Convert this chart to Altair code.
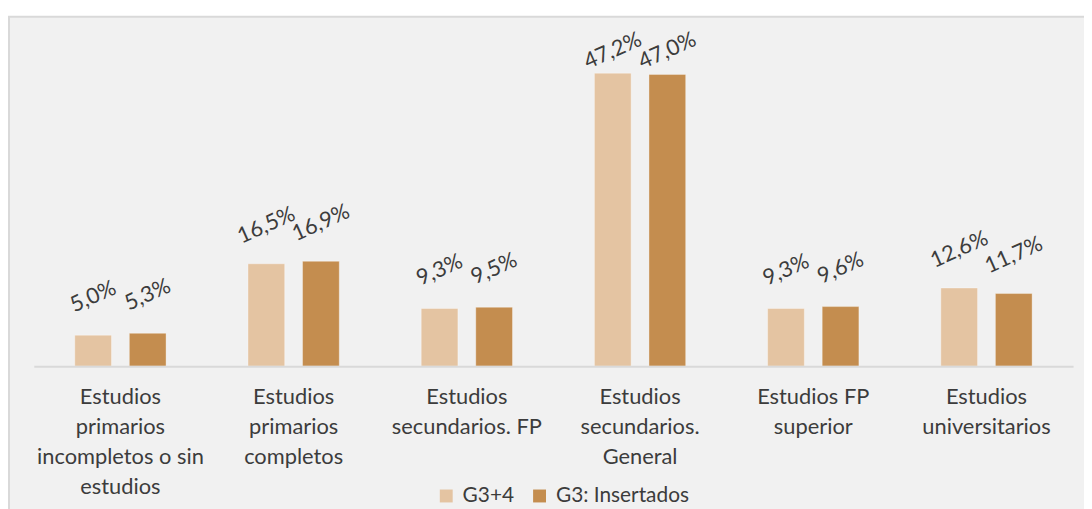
import altair as alt
import pandas as pd

categories = [
    "Estudios|primarios|incompletos o sin|estudios",
    "Estudios|primarios|completos",
    "Estudios|secundarios. FP",
    "Estudios|secundarios.|General",
    "Estudios FP|superior",
    "Estudios|universitarios",
]
series = ["G3+4", "G3: Insertados"]
g34 = [5.0, 16.5, 9.3, 47.2, 9.3, 12.6]
g3 = [5.3, 16.9, 9.5, 47.0, 9.6, 11.7]
colors = ["#E4C4A2", "#C48D4F"]

rows = []
for c, a, b in zip(categories, g34, g3):
    rows.append({"cat": c, "serie": series[0], "value": a})
    rows.append({"cat": c, "serie": series[1], "value": b})
df = pd.DataFrame(rows)

W, H = 1047, 344
FONT = "Lato"
TXT = "#3C3C3C"

bg = alt.Chart(alt.Data(values=[{"a": 1}])).mark_rect(
    fill="#F1F1F1", stroke="#D9D9D9", strokeWidth=2
).encode(
    x=alt.value(-25), x2=alt.value(1120), y=alt.value(-8), y2=alt.value(520)
)

base = alt.Chart(df).encode(
    x=alt.X("cat:N", sort=categories,
            scale=alt.Scale(paddingInner=0.37, paddingOuter=0.185),
            axis=alt.Axis(title=None, labelAngle=0, ticks=False, zindex=1,
                          domainColor="#D9D9D9", domainWidth=2,
                          labelFont=FONT, labelFontSize=22, labelColor=TXT,
                          labelLineHeight=30, labelPadding=21, labelLimit=0,
                          labelExpr="split(datum.label, '|')")),
    xOffset=alt.XOffset("serie:N", sort=series,
                        scale=alt.Scale(paddingInner=0.327, paddingOuter=0.1635)),
)

bars = base.mark_bar(stroke="#FFFFFF", strokeOpacity=0.35, strokeWidth=1).encode(
    y=alt.Y("value:Q", scale=alt.Scale(domain=[0, 55]), axis=None),
    color=alt.Color("serie:N", sort=series,
                    scale=alt.Scale(domain=series, range=colors),
                    legend=alt.Legend(title=None, orient="none", direction="horizontal",
                                      legendX=405, legendY=464, symbolType="square",
                                      symbolSize=169, symbolStrokeWidth=0,
                                      labelFont=FONT, labelFontSize=21, labelColor=TXT,
                                      labelOffset=6, columnPadding=15, padding=0,
                                      zindex=1)),
)

labels = base.transform_calculate(
    lbl="replace(format(datum.value, '.1f'), '.', ',') + '%'",
    ypos="min(datum.value, 44.6)",
).mark_text(
    angle=336, font=FONT, fontSize=22, color=TXT, align="center", baseline="middle",
    yOffset=-39,
).encode(
    y=alt.Y("ypos:Q", scale=alt.Scale(domain=[0, 55])),
    text="lbl:N",
)

chart = alt.layer(bg, bars, labels).properties(
    width=W, height=H,
    autosize=alt.AutoSizeParams(type="none"),
    padding={"left": 26, "top": 15, "right": 11, "bottom": 142},
    background="white",
).configure_view(stroke=None)

chart.save("out.html", embed_options={"renderer": "svg", "actions": False})
